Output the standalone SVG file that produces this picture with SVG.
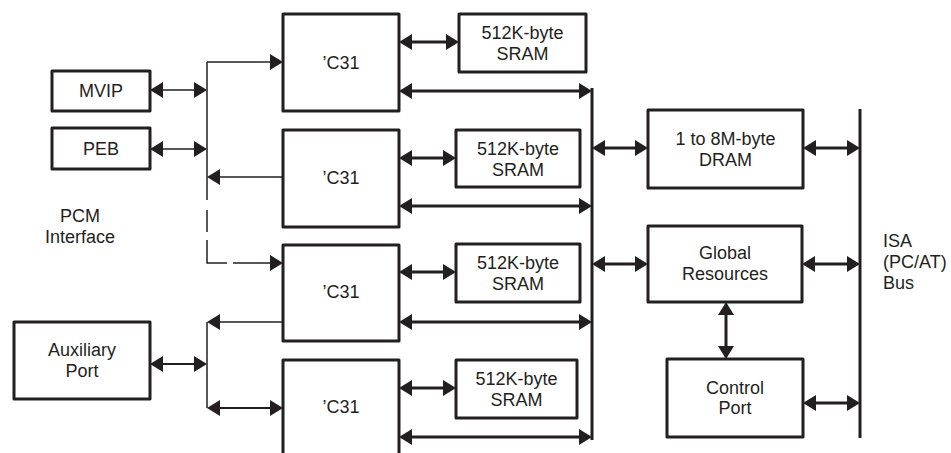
<svg xmlns="http://www.w3.org/2000/svg" width="951" height="453" viewBox="0 0 951 453">
<defs>
<marker id="ah" viewBox="0 0 13 16" refX="10" refY="8" markerWidth="13" markerHeight="16" markerUnits="userSpaceOnUse" orient="auto-start-reverse">
<path d="M0,0 L13,8 L0,16 Z" fill="#231f20"/>
</marker>
<style>
.box{fill:#fff;stroke:#231f20;stroke-width:3;stroke-linejoin:round}
text{font-family:"Liberation Sans",Arial,Helvetica,sans-serif;font-size:18px;fill:#231f20}
.c{text-anchor:middle}
.thick{fill:none;stroke:#231f20;stroke-width:3}
.thin{fill:none;stroke:#231f20;stroke-width:1.5}
.mid{fill:none;stroke:#231f20;stroke-width:2}
.bi{marker-start:url(#ah);marker-end:url(#ah)}
.end{marker-end:url(#ah)}
</style>
</defs>
<rect width="951" height="453" fill="#fff"/>

<g id="connectors">
<!-- PCM bus -->
<path class="thin" d="M207,62 V200"/>
<path class="thin end" d="M207,62 H280"/>
<path class="thin" d="M207,210 V232"/>
<path class="thin" d="M207,240 V263 H227"/>
<path class="thin end" d="M233,263 H280"/>
<path class="thin bi" d="M153,90 H204"/>
<path class="thin bi" d="M153,149 H204"/>
<path class="thin end" d="M283,177 H210"/>
<!-- Aux bus -->
<path class="thin" d="M207,322 V408"/>
<path class="thin end" d="M283,322 H210"/>
<path class="mid bi" d="M153,364 H204"/>
<path class="mid bi" d="M210,408 H280"/>
<!-- C31 to SRAM -->
<path class="thick bi" d="M402,42 H456"/>
<path class="thick bi" d="M402,158 H453"/>
<path class="thick bi" d="M402,272 H453"/>
<path class="thick bi" d="M402,388 H453"/>
<!-- C31 to local bus -->
<path class="thick bi" d="M402,91 H589"/>
<path class="thick bi" d="M402,206 H589"/>
<path class="thick bi" d="M402,322 H589"/>
<path class="thick bi" d="M402,437 H589"/>
<path class="thick" d="M592,88 V440"/>
<!-- to DRAM / Global -->
<path class="thick bi" d="M595,148 H645"/>
<path class="thick bi" d="M806,148 H857"/>
<path class="thick bi" d="M595,264 H645"/>
<path class="thick bi" d="M805,264 H857"/>
<path class="thick bi" d="M726,305 V356"/>
<path class="thick bi" d="M806,403 H857"/>
<!-- ISA bus -->
<path class="thick" d="M860,109 V438"/>
</g>

<g id="mvip"><rect class="box" x="52" y="71" width="98" height="40"/><text class="c" x="101" y="97">MVIP</text></g>
<g id="peb"><rect class="box" x="52" y="128" width="98" height="41"/><text class="c" x="101" y="155">PEB</text></g>
<g id="pcm"><text class="c" x="80" y="222">PCM</text><text class="c" x="80" y="243">Interface</text></g>
<g id="aux"><rect class="box" x="14" y="322" width="136" height="77"/><text class="c" x="82" y="356">Auxiliary</text><text class="c" x="82" y="377">Port</text></g>

<g id="c31a"><rect class="box" x="283" y="14" width="116" height="97"/><text class="c" x="341" y="69">’C31</text></g>
<g id="c31b"><rect class="box" x="283" y="130" width="116" height="97"/><text class="c" x="341" y="184">’C31</text></g>
<g id="c31c"><rect class="box" x="283" y="245" width="116" height="96"/><text class="c" x="341" y="298">’C31</text></g>
<g id="c31d"><rect class="box" x="283" y="360" width="116" height="110"/><text class="c" x="341" y="413">’C31</text></g>

<g id="sram1"><rect class="box" x="459" y="14" width="127" height="58"/><text class="c" x="522.5" y="39">512K-byte</text><text class="c" x="522.5" y="60">SRAM</text></g>
<g id="sram2"><rect class="box" x="456" y="130" width="124" height="57"/><text class="c" x="518" y="155">512K-byte</text><text class="c" x="518" y="176">SRAM</text></g>
<g id="sram3"><rect class="box" x="456" y="244" width="124" height="58"/><text class="c" x="518" y="269">512K-byte</text><text class="c" x="518" y="290">SRAM</text></g>
<g id="sram4"><rect class="box" x="456" y="360" width="121" height="58"/><text class="c" x="516.5" y="385">512K-byte</text><text class="c" x="516.5" y="406">SRAM</text></g>

<g id="dram"><rect class="box" x="648" y="110" width="155" height="78"/><text class="c" x="725.5" y="145">1 to 8M-byte</text><text class="c" x="725.5" y="166">DRAM</text></g>
<g id="global"><rect class="box" x="648" y="226" width="154" height="76"/><text class="c" x="725" y="259">Global</text><text class="c" x="725" y="280">Resources</text></g>
<g id="control"><rect class="box" x="667" y="359" width="136" height="78"/><text class="c" x="735" y="394">Control</text><text class="c" x="735" y="414">Port</text></g>

<g id="isa"><text x="883" y="247">ISA</text><text x="883" y="268">(PC/AT)</text><text x="883" y="289">Bus</text></g>
</svg>
